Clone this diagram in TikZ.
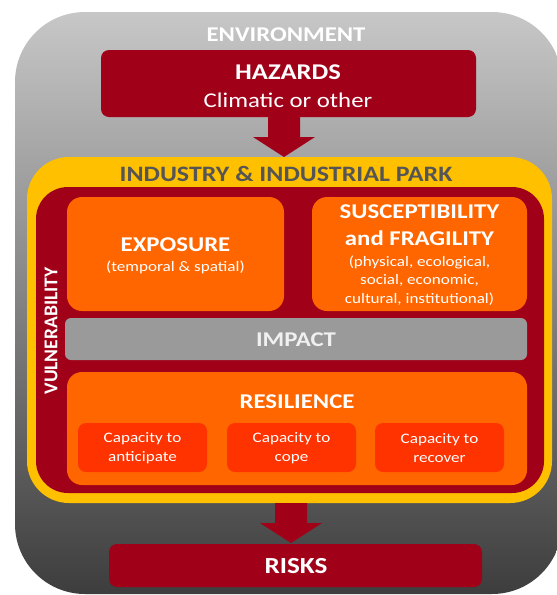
\documentclass[tikz,border=0pt]{standalone}
\usepackage{fontspec}
\setmainfont{Carlito}
\newfontfamily\wide[FakeStretch=1.18]{Carlito}
\definecolor{dred}{HTML}{A00018}
\definecolor{orng}{HTML}{FF6600}
\definecolor{yel}{HTML}{FFC000}
\definecolor{rorng}{HTML}{FF3300}
\definecolor{impgray}{HTML}{9A9A9A}
\definecolor{txtgray}{HTML}{555555}
\tikzset{
  arrowshape/.style={fill=dred, draw=none},
  ttl/.style={font=\wide\fontsize{21}{24}\selectfont\bfseries, text=white},
  subtxt/.style={font=\wide\fontsize{14.5}{16}\selectfont, text=white, align=center},
  captxt/.style={font=\wide\fontsize{14.5}{19}\selectfont, text=white, align=center},
}
\begin{document}
\begin{tikzpicture}[x=1pt,y=-1pt]
\useasboundingbox (0,0) rectangle (557,595);
\begin{scope}
\clip (0,0) rectangle (557,595);
% outer environment
\shade[top color=white!78!black, middle color=white!62!black, bottom color=white!24!black, rounded corners=70pt]
  (15,12) rectangle (562,594);
\end{scope}
\node[ttl] (env) at (286,35) {ENVIRONMENT};
% hazards
\fill[dred, rounded corners=8pt] (101,50) rectangle (476,117);
\node[ttl, font=\wide\fontsize{22.5}{24}\selectfont\bfseries] (haz) at (288,72) {HAZARDS};
\node[font=\wide\fontsize{21}{24}\selectfont, text=white] (clim) at (288,100) {Climatic or other};
% arrow down from hazards
\fill[arrowshape] (268,117) -- (300,117) -- (300,137) -- (315,137) -- (284,157) -- (253,137) -- (268,137) -- cycle;
% yellow industry
\fill[yel, rounded corners=42pt] (27,157) rectangle (552,503);
\node[font=\wide\fontsize{22}{24}\selectfont\bfseries, text=txtgray] (ind) at (286,174) {INDUSTRY \& INDUSTRIAL PARK};
% dark red vulnerability
\fill[dred, rounded corners=32pt] (36,187) rectangle (544,493);
\node[font=\fontsize{19.5}{22}\selectfont\bfseries, text=white, rotate=90] (vul) at (51,331) {VULNERABILITY};
% exposure
\fill[orng, rounded corners=15pt] (67,197) rectangle (284,311);
\node[ttl] (exp) at (175.5,245) {EXPOSURE};
\node[subtxt] (expsub) at (175.5,267) {(temporal \& spatial)};
% susceptibility
\fill[orng, rounded corners=15pt] (312,197) rectangle (527,311);
\node[ttl, align=center, font=\wide\fontsize{21}{27}\selectfont\bfseries] (sus) at (419.5,225.5) {SUSCEPTIBILITY\\and FRAGILITY};
\node[subtxt, font=\wide\fontsize{14.5}{18.5}\selectfont] (sussub) at (419.5,280.5) {(physical, ecological,\\social, economic,\\cultural, institutional)};
% impact
\fill[impgray, rounded corners=6pt] (65,318) rectangle (527,360);
\node[ttl, text=white!94!black] (imp) at (296,340) {IMPACT};
% resilience
\fill[orng, rounded corners=15pt] (67,372) rectangle (527,485);
\node[ttl] (res) at (297,402) {RESILIENCE};
\fill[rorng, rounded corners=8pt] (78,423) rectangle (207,472);
\fill[rorng, rounded corners=8pt] (227,423) rectangle (356,472);
\fill[rorng, rounded corners=8pt] (375,423) rectangle (504,472);
\node[captxt] (c1) at (142.5,448.5) {Capacity to\\anticipate};
\node[captxt] (c2) at (291.5,448.5) {Capacity to\\cope};
\node[captxt] (c3) at (439.5,448.5) {Capacity to\\recover};
% arrow to risks
\fill[arrowshape] (275,503) -- (307,503) -- (307,523) -- (322,523) -- (291,543) -- (260,523) -- (275,523) -- cycle;
% risks
\fill[dred, rounded corners=8pt] (109,544) rectangle (482,587);
\node[ttl, font=\wide\fontsize{23}{24}\selectfont\bfseries] (risk) at (296,566) {RISKS};
\end{tikzpicture}
\end{document}
